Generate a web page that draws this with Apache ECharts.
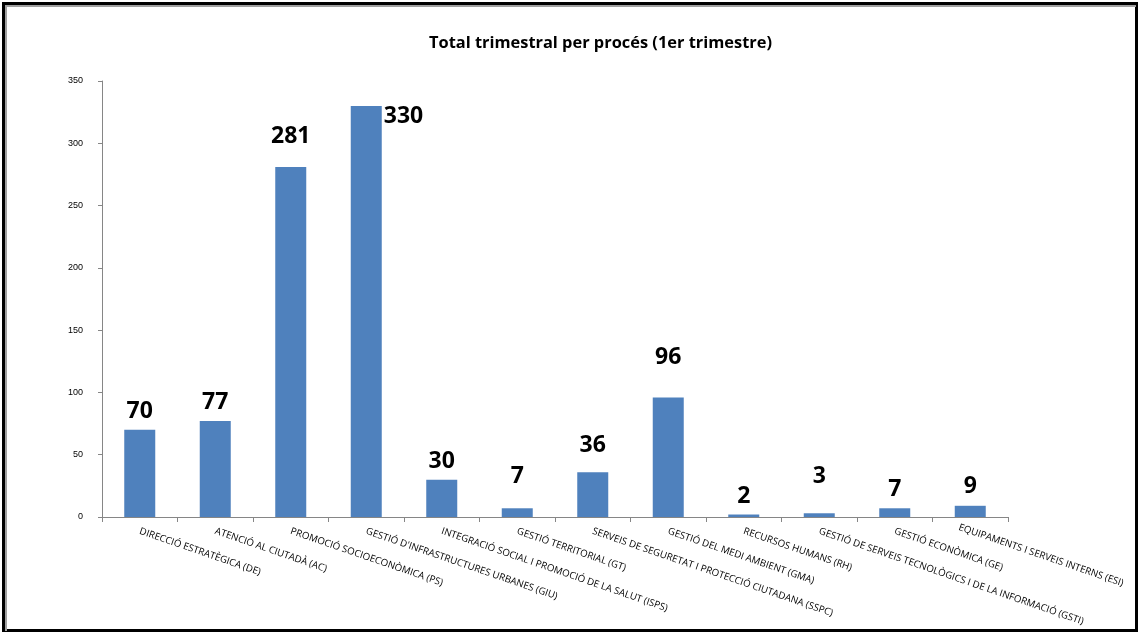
<!DOCTYPE html>
<html><head><meta charset="utf-8">
<script src="https://cdn.jsdelivr.net/npm/echarts@6/dist/echarts.min.js"></script>
<style>html,body{margin:0;padding:0;background:#fff}#c{width:1140px;height:633px}</style>
</head><body><div id="c"></div>
<script>
const categories = ["DIRECCIÓ ESTRATÈGICA (DE)","ATENCIÓ AL CIUTADÀ (AC)","PROMOCIÓ SOCIOECONÒMICA (PS)","GESTIÓ D'INFRASTRUCTURES URBANES (GIU)","INTEGRACIÓ SOCIAL I PROMOCIÓ DE LA SALUT (ISPS)","GESTIÓ TERRITORIAL (GT)","SERVEIS DE SEGURETAT I PROTECCIÓ CIUTADANA (SSPC)","GESTIÓ DEL MEDI AMBIENT (GMA)","RECURSOS HUMANS (RH)","GESTIÓ DE SERVEIS TECNOLÒGICS I DE LA INFORMACIÓ (GSTI)","GESTIÓ ECONÒMICA (GE)","EQUIPAMENTS I SERVEIS INTERNS (ESI)"];
const values = [70,77,281,330,30,7,36,96,2,3,7,9];
const yTicks = [0,50,100,150,200,250,300,350];
// extra vertical lift (px) of each data label, as placed in the original
const labelLift = [0,0,12,0,0,13,8,21,0,18,0,1];

const data = values.map((v,i)=>{
  const d = {value:v, label:{offset:[0,-labelLift[i]]}};
  if (i===3) d.label = {position:['100%',0], align:'left', verticalAlign:'middle', offset:[2,11]};
  return d;
});
const xData = categories.map((c,i)=> i===categories.length-1 ? {value:c, textStyle:{padding:[0,0,0,-12]}} : c);

const chart = echarts.init(document.getElementById('c'));
chart.setOption({
  animation:false,
  title:{text:'Total trimestral per procés (1er trimestre)', left:424, top:30,
    textStyle:{fontFamily:'Open Sans', fontWeight:'bold', fontSize:16.4, color:'#000'}},
  grid:{left:102, right:132, top:81, bottom:116},
  xAxis:{type:'category', data:xData,
    axisLine:{lineStyle:{color:'#868686'}},
    axisTick:{show:true, length:5, lineStyle:{color:'#868686'}},
    axisLabel:{interval:0, rotate:-19, fontFamily:'Open Sans', fontSize:9.7, color:'#000', margin:14}},
  yAxis:{type:'value', min:yTicks[0], max:yTicks[yTicks.length-1], interval:50,
    splitLine:{show:false},
    axisLine:{show:true, lineStyle:{color:'#868686'}},
    axisTick:{show:true, length:4, lineStyle:{color:'#868686'}},
    axisLabel:{fontFamily:'Liberation Sans', fontSize:9, color:'#000', margin:19}},
  series:[{type:'bar', data:data, barWidth:31,
    itemStyle:{color:'#4F81BD'},
    label:{show:true, position:'top', distance:7, fontFamily:'Open Sans', fontWeight:'bold', fontSize:23, color:'#000'}}],
  graphic:[
    {type:'rect', shape:{x:3.5,y:3.5,width:1133,height:627}, style:{fill:null, stroke:'#000', lineWidth:3}, z:100},
    {type:'polyline', shape:{points:[[6,631],[6,6],[1136,6]]}, style:{fill:null, stroke:'#a0a0a0', lineWidth:2}, z:100}
  ]
});
</script></body></html>
